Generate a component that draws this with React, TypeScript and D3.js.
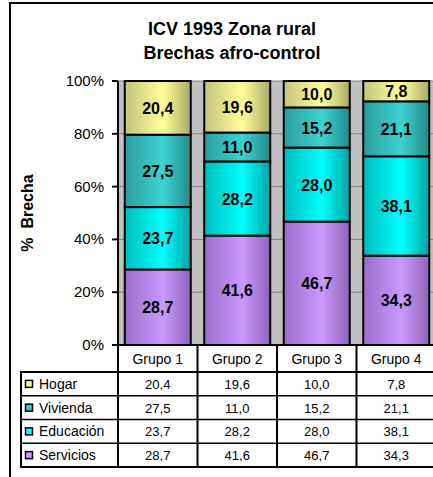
import React from "react";
import * as d3 from "d3";

const categories = ["Grupo 1", "Grupo 2", "Grupo 3", "Grupo 4"];
const seriesNames = ["Servicios", "Educación", "Vivienda", "Hogar"];
const servicios = [28.7, 41.6, 46.7, 34.3];
const educacion = [23.7, 28.2, 28.0, 38.1];
const vivienda = [27.5, 11.0, 15.2, 21.1];
const hogar = [20.4, 19.6, 10.0, 7.8];
const yTicks = [0, 0.2, 0.4, 0.6, 0.8, 1.0];
const titleLines = ["ICV 1993 Zona rural", "Brechas afro-control"];
const yTitle = "%  Brecha";

const seriesValues: Record<string, number[]> = {
  Servicios: servicios,
  "Educación": educacion,
  Vivienda: vivienda,
  Hogar: hogar,
};

const colors: Record<string, { dark: string; light: string; darkR: string; key: string }> = {
  Hogar: { dark: "#C4C47C", light: "#FFFF99", darkR: "#A9A966", key: "#FFFF99" },
  Vivienda: { dark: "#2A9E9E", light: "#3ED2D2", darkR: "#238A8A", key: "#33CCCC" },
  "Educación": { dark: "#00BDBD", light: "#00FFFF", darkR: "#00A3A3", key: "#00FFFF" },
  Servicios: { dark: "#9A6DCB", light: "#CC99FF", darkR: "#8E63B8", key: "#CC99FF" },
};

const FONT = "Arial, 'Liberation Sans', sans-serif";

export default function App() {
  const W = 433;
  const H = 477;
  const plotL = 118;
  const plotR = 436;
  const plotT = 81;
  const plotB = 345;

  const x = d3
    .scaleBand<string>()
    .domain(categories)
    .range([plotL, plotR])
    .paddingInner(0.17)
    .paddingOuter(0.085);
  const colScale = d3.scaleBand<string>().domain(categories).range([plotL, plotR]);
  const y = d3.scaleLinear().domain([0, 1]).range([plotB, plotT]);

  const rows = categories.map((c, i) => {
    const r: any = { cat: c };
    seriesNames.forEach((s) => (r[s] = seriesValues[s][i]));
    return r;
  });
  const stack = d3.stack<any>().keys(seriesNames).offset(d3.stackOffsetExpand);
  const stacked = stack(rows);

  const fmt = (v: number) => v.toFixed(1).replace(".", ",");

  const headerB = 372;
  const tableB = 467;
  const tableL = 21;
  const legendOrder = ["Hogar", "Vivienda", "Educación", "Servicios"];
  const rowH = (tableB - headerB) / legendOrder.length;

  return (
    <svg
      width={W}
      height={H}
      style={{ position: "absolute", left: 0, top: 0, background: "#fff" }}
      fontFamily={FONT}
    >
      <defs>
        {seriesNames.map((s, i) => (
          <linearGradient key={s} id={`g${i}`} x1="0" x2="1" y1="0" y2="0">
            <stop offset="0" stopColor={colors[s].dark} />
            <stop offset="0.58" stopColor={colors[s].light} />
            <stop offset="1" stopColor={colors[s].darkR} />
          </linearGradient>
        ))}
      </defs>
      <rect x={0} y={0} width={W} height={H} fill="#fff" />
      {/* frame */}
      <rect x={10} y={3} width={W + 20} height={H + 20} fill="none" stroke="#000" strokeWidth={2} />

      {/* title */}
      {titleLines.map((t, i) => (
        <text
          key={i}
          x={232}
          y={35 + i * 24}
          textAnchor="middle"
          fontWeight="bold"
          fontSize={18}
          fill="#000"
        >
          {t}
        </text>
      ))}

      {/* plot bg */}
      <rect x={plotL} y={plotT} width={plotR - plotL} height={plotB - plotT} fill="#C0C0C0" />
      {yTicks.slice(1).map((t) => (
        <line key={t} x1={plotL} x2={plotR} y1={y(t)} y2={y(t)} stroke="#808080" strokeWidth={1} />
      ))}

      {/* bars */}
      {stacked.map((layer, li) => (
        <g key={layer.key}>
          {layer.map((d, ci) => {
            const x0 = x(categories[ci])!;
            const y0 = y(d[1]);
            const y1 = y(d[0]);
            return (
              <g key={ci}>
                <rect
                  x={x0}
                  y={y0}
                  width={x.bandwidth()}
                  height={y1 - y0}
                  fill={`url(#g${li})`}
                  stroke="#000"
                  strokeWidth={2}
                />
              </g>
            );
          })}
        </g>
      ))}
      {stacked.map((layer) =>
        layer.map((d, ci) => {
          const cx = x(categories[ci])! + x.bandwidth() / 2;
          const cy = (y(d[0]) + y(d[1])) / 2;
          return (
            <text
              key={`${layer.key}-${ci}`}
              x={cx}
              y={cy + 6}
              textAnchor="middle"
              fontWeight="bold"
              fontSize={16}
              fill="#000"
            >
              {fmt(seriesValues[layer.key as string][ci])}
            </text>
          );
        })
      )}

      {/* y axis */}
      <line x1={plotL} x2={plotL} y1={plotT} y2={tableB} stroke="#000" strokeWidth={2} />
      {yTicks.map((t) => (
        <g key={t}>
          <line x1={plotL - 6} x2={plotL} y1={y(t)} y2={y(t)} stroke="#000" strokeWidth={2} />
          <text x={104} y={y(t) + 5} textAnchor="end" fontSize={15} fill="#000">
            {`${Math.round(t * 100)}%`}
          </text>
        </g>
      ))}
      <text
        transform={`translate(33,213) rotate(-90)`}
        textAnchor="middle"
        fontWeight="bold"
        fontSize={16}
        style={{ whiteSpace: "pre" }}
        fill="#000"
      >
        {yTitle}
      </text>

      {/* x axis / table */}
      <line x1={plotL - 6} x2={plotR} y1={plotB} y2={plotB} stroke="#000" strokeWidth={2} />
      {categories.map((c) => (
        <g key={c}>
          <line
            x1={colScale(c)! + colScale.bandwidth()}
            x2={colScale(c)! + colScale.bandwidth()}
            y1={plotB}
            y2={tableB}
            stroke="#000"
            strokeWidth={2}
          />
          <text
            x={colScale(c)! + colScale.bandwidth() / 2}
            y={364}
            textAnchor="middle"
            fontSize={14}
            fill="#000"
          >
            {c}
          </text>
        </g>
      ))}
      <line x1={tableL} x2={tableL} y1={headerB} y2={tableB} stroke="#000" strokeWidth={2} />
      {d3.range(legendOrder.length + 1).map((k) => (
        <line
          key={k}
          x1={tableL - 1}
          x2={plotR}
          y1={headerB + k * rowH}
          y2={headerB + k * rowH}
          stroke="#000"
          strokeWidth={k === 0 || k === legendOrder.length ? 2 : 1.5}
        />
      ))}
      {legendOrder.map((s, k) => {
        const cy = headerB + k * rowH + rowH / 2;
        return (
          <g key={s}>
            <rect x={25.5} y={cy - 3.5} width={7} height={7} fill={colors[s].key} stroke="#000" strokeWidth={1.5} />
            <text x={39} y={cy + 5} fontSize={14} fill="#000">
              {s}
            </text>
            {categories.map((c, ci) => (
              <text
                key={c}
                x={colScale(c)! + colScale.bandwidth() / 2}
                y={cy + 5}
                textAnchor="middle"
                fontSize={13}
                fill="#000"
              >
                {fmt(seriesValues[s][ci])}
              </text>
            ))}
          </g>
        );
      })}
    </svg>
  );
}
